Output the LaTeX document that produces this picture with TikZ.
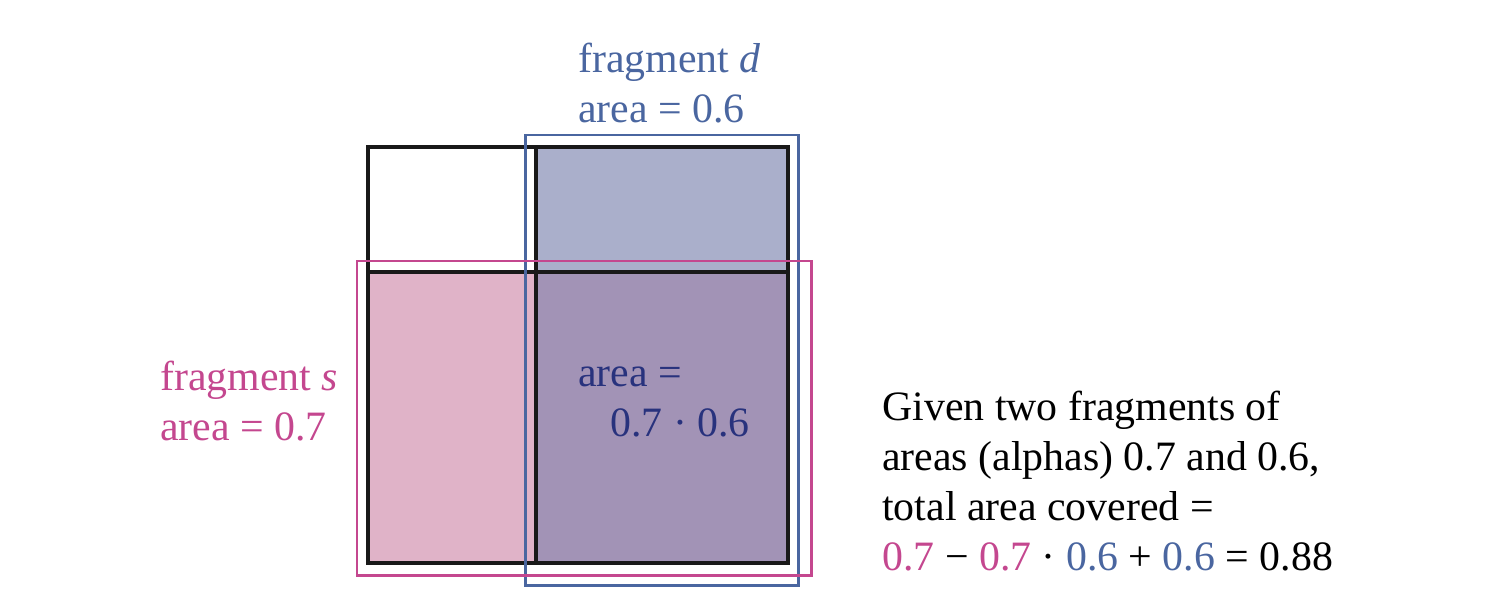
\documentclass[tikz,border=0pt]{standalone}
\usepackage{fontspec}
\setmainfont{Liberation Serif}
\usetikzlibrary{positioning}
\definecolor{fragblue}{RGB}{74, 102, 160}
\definecolor{fragpink}{RGB}{196, 71, 143}
\definecolor{areanavy}{RGB}{40, 50, 125}
\definecolor{donlyfill}{RGB}{170, 175, 203}
\definecolor{sonlyfill}{RGB}{224, 179, 200}
\definecolor{bothfill}{RGB}{162, 147, 182}

\begin{document}
\begin{tikzpicture}[
    x=0.02cm, y=-0.02cm,
    every node/.style={font=\fontsize{23.8}{28.45}\selectfont, inner sep=0pt,
                       anchor=base west, align=left},
    gridline/.style={draw=black!90, line width=2.3pt},
    fragdline/.style={draw=fragblue, line width=1.7pt},
    fragsline/.style={draw=fragpink, line width=1.7pt}
]
\useasboundingbox (0,0) rectangle (1500,612);

% Cells
\fill[donlyfill] (536,147) rectangle (788,272);
\fill[sonlyfill] (368,272) rectangle (536,563);
\fill[bothfill] (536,272) rectangle (788,563);

% Grid
\draw[gridline] (368,147) rectangle (788,563);
\draw[gridline] (536,147) -- (536,563);
\draw[gridline] (368,272) -- (788,272);

% Fragment outlines
\draw[fragdline] (525,135) rectangle (798,585);
\draw[fragsline] (357,261) rectangle (811,575);

% Labels (placed by the baseline of their last line)
\node[text=fragblue] (fragd) at (578,122) {fragment \textit{d}\\area = 0.6};
\node[text=fragpink] (frags) at (160,440) {fragment \textit{s}\\area = 0.7};
\node[text=areanavy] (overlap) at (578,436) {area =\\\hspace{0.64cm}0.7 · 0.6};

% Caption
\node (caption) at (882,570)
    {Given two fragments of\\areas (alphas) 0.7 and 0.6,\\total area covered =\\
     \textcolor{fragpink}{0.7} − \textcolor{fragpink}{0.7} · \textcolor{fragblue}{0.6}
     + \textcolor{fragblue}{0.6} = 0.88};

\end{tikzpicture}
\end{document}
